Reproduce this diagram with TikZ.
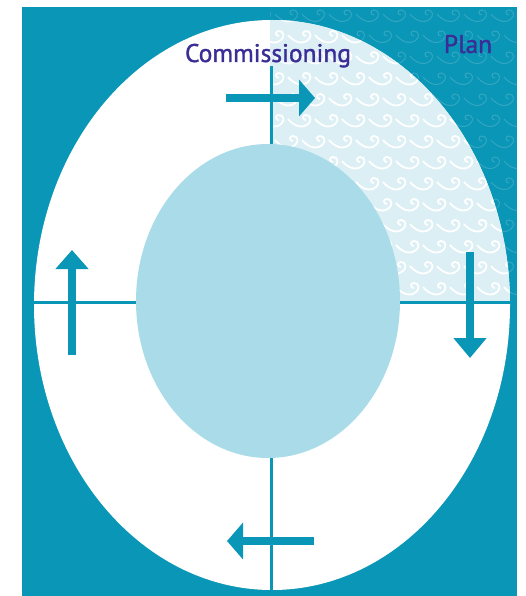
\documentclass[tikz,border=0pt]{standalone}
\usepackage{fontspec}
\setmainfont{PT Sans}
\newfontfamily\labelfont[FakeBold=1.4]{PT Sans}
\usetikzlibrary{arrows.meta}
\definecolor{teal1}{HTML}{0A96B6}
\definecolor{inner}{HTML}{A9DCE8}
\definecolor{pale}{HTML}{DCEFF5}
\definecolor{waveteal}{HTML}{34A6C2}
\definecolor{ink}{HTML}{3A2E96}
\tikzset{
  wavepic/.pic={\draw (-14,-3) .. controls (-8,4) and (0,7) .. (6,2) .. controls (10,-1) and (9,-7) .. (4,-7) .. controls (0,-7) and (0,-2) .. (4,-2);},
  cross/.style={draw=teal1,line width=3pt},
  flow/.style={draw=teal1,line width=7.5pt},
  label/.style={text=ink,font=\labelfont\fontsize{25.5}{28}\selectfont,inner sep=0pt}
}
\begin{document}
\begin{tikzpicture}[x=1pt,y=-1pt]
\useasboundingbox (0,0) rectangle (526,596);
% background
\fill[teal1] (22,7) rectangle (517,596);
\fill[white] (272,305) ellipse [x radius=238, y radius=285];
% patterned quadrant
\begin{scope}
  \clip (270,7) rectangle (517,302);
  \foreach \r in {0,...,14}{
    \foreach \c in {0,...,10}{
      \pic[draw=waveteal,line width=1pt] at ({262+\c*27+mod(\r,2)*13},{17+\r*21}) {wavepic};
    }
  }
  \clip (272,305) ellipse [x radius=238, y radius=285];
  \fill[pale] (270,7) rectangle (517,302);
  \foreach \r in {0,...,14}{
    \foreach \c in {0,...,10}{
      \pic[draw=white,line width=1.8pt] at ({262+\c*27+mod(\r,2)*13},{17+\r*21}) {wavepic};
    }
  }
\end{scope}
% cross lines
\coordinate (vt) at (271,66);
\coordinate (vb) at (271,591);
\coordinate (hl) at (34,302);
\coordinate (hr) at (511,302);
\draw[cross] (vt) -- (vb);
\draw[cross] (hl) -- (hr);
% inner ellipse
\fill[inner] (268,301) ellipse [x radius=132, y radius=157];
% arrows
\coordinate (a1s) at (226,98);  \coordinate (a1e) at (315,98);
\coordinate (a2s) at (470,252); \coordinate (a2e) at (470,358);
\coordinate (a3s) at (314,541); \coordinate (a3e) at (227,541);
\coordinate (a4s) at (72,355);  \coordinate (a4e) at (72,250);
\draw[flow,-{Triangle[length=16pt,width=36pt]}] (a1s) -- (a1e);
\draw[flow,-{Triangle[length=20pt,width=32pt]}] (a2s) -- (a2e);
\draw[flow,-{Triangle[length=16pt,width=36pt]}] (a3s) -- (a3e);
\draw[flow,-{Triangle[length=19pt,width=32pt]}] (a4s) -- (a4e);
% labels
\node[label,anchor=base] (comm) at (268,62) {Commissioning};
\node[label,anchor=base] (plan) at (468,53) {Plan};
\end{tikzpicture}
\end{document}
